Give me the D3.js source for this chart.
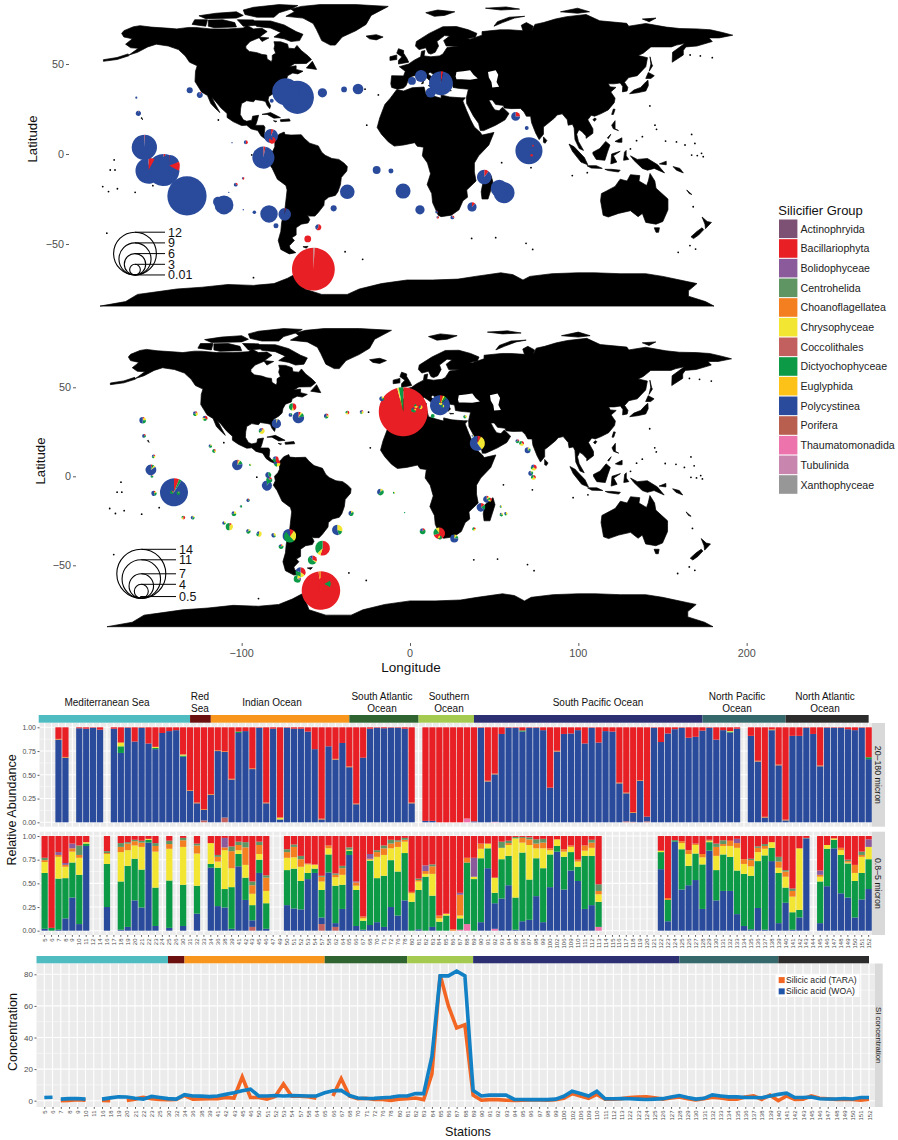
<!DOCTYPE html>
<html>
<head>
<meta charset="utf-8">
<style>
  html, body { margin: 0; padding: 0; background: #fff; }
  svg { display: block; font-family: "Liberation Sans", Arial, sans-serif; }
</style>
<script src="https://d3js.org/d3.v7.min.js"></script>
</head>
<body>
<svg id="chart" width="898" height="1140"></svg>
<script>
// silicifier maps, relative abundance bars and silicic acid line

const groupNames = ['Actinophryida','Bacillariophyta','Bolidophyceae','Centrohelida','Choanoflagellatea','Chrysophyceae','Coccolithales','Dictyochophyceae','Euglyphida','Polycystinea','Porifera','Thaumatomonadida','Tubulinida','Xanthophyceae'];
const groupColors = ['#7d5173','#e81f25','#8b5a9a','#5f9563','#f47f20','#f3e633','#c1605f','#0c9a46','#fdc218','#2a4b9c','#b85f50','#ec73ac','#c885ae','#979797'];
const groupCodes = {A:'Actinophryida',B:'Bacillariophyta',V:'Bolidophyceae',G:'Centrohelida',O:'Choanoflagellatea',C:'Chrysophyceae',K:'Coccolithales',D:'Dictyochophyceae',E:'Euglyphida',P:'Polycystinea',R:'Porifera',T:'Thaumatomonadida',U:'Tubulinida',X:'Xanthophyceae'};

// land outlines, lon/lat
const landPolys = [
  [[-167.3,67],[-166,68.5],[-160.4,70.7],[-156.5,71.3],[-150,70.5],[-139,69.8],[-135,69.5],[-128,70.3],[-124,70.3],[-115,69.5],[-105,69.5],[-96,70],[-94,71.5],[-90,69.5],[-85,69.8],[-82,68],[-85,66],[-87,64.5],[-92,62.5],[-94.5,60],[-94.5,58.7],[-92.5,57],[-88,56.3],[-85,55.3],[-82.3,55],[-82,52.8],[-79.5,51.3],[-79,52.5],[-79,54.8],[-77,56],[-78,58.5],[-77.5,60.5],[-78,62.4],[-74,62.3],[-70,61],[-69.5,58.8],[-66,58.5],[-64.5,60.3],[-62,57.5],[-58,54.5],[-56,52.5],[-59,50.3],[-66,50.2],[-69,48.5],[-65,49],[-65,47],[-61,46],[-64,44.5],[-67,45],[-70,43.5],[-70.5,41.8],[-74,40.5],[-75.5,38],[-76,35.5],[-78,33.8],[-81,32],[-81.5,30],[-80,26.8],[-80.5,25.2],[-82,27],[-83,29.2],[-85,29.7],[-89,30.2],[-90,29],[-94,29.6],[-97,28],[-97.6,25],[-97.8,22],[-96,19],[-94,18.2],[-91,18.8],[-90.5,21],[-87,21.5],[-88,18],[-88.8,15.9],[-84,15.9],[-83.3,14.8],[-83.7,11],[-82,9],[-80,9.2],[-77.5,8.6],[-78,7.5],[-80.3,7.3],[-83,8.3],[-85.5,10],[-87.5,13],[-91.5,14],[-94,16],[-97,15.8],[-102,18],[-105.5,20.3],[-105.5,22.5],[-109,25.5],[-112.5,29.5],[-114.5,31.5],[-112,27],[-109.7,23],[-112,25],[-115,28],[-117,32.5],[-120.5,34.5],[-122.5,37.5],[-124.3,40.3],[-124,46],[-123,49],[-127.5,51],[-130,54.5],[-134,58],[-140,60],[-147,61],[-152,59.5],[-158,56.5],[-163,55],[-157.5,58.7],[-162,59],[-165,61],[-161,64],[-166,65]],
  [[-178,51.5],[-170,52.5],[-163,54.6],[-163.5,55.6],[-170,53.6],[-178,52.4]],
  [[-71,76.5],[-61,75.5],[-55,72.5],[-53,69],[-50,63],[-45,60.5],[-42,60.5],[-38,65],[-30,68.5],[-24,72],[-21,77],[-11,82],[-30,83],[-51,83],[-62,82],[-68,80.5],[-66,79]],
  [[-96,80],[-90,81.5],[-75,83],[-64,82.5],[-68,80.5],[-75,78.5],[-78,76],[-88,76],[-95,77.5]],
  [[-122,76.8],[-112,78.2],[-100,79],[-96,77],[-100,75.5],[-118,75.2]],
  [[-126,72],[-124.5,74.6],[-117,74.6],[-118,71]],
  [[-116.5,74.4],[-108,74.6],[-101,73],[-100,70.6],[-113,70.2],[-116.5,71]],
  [[-99.5,74.6],[-90,74.5],[-89,71.5],[-96,71]],
  [[-92,74],[-80,73.9],[-72,71.7],[-65,68],[-61,66.5],[-63,63],[-68,62.5],[-72,64],[-78,65],[-74,67.5],[-80,70],[-88,70.8]],
  [[-87,65],[-81,64.5],[-85,62.5]],
  [[-59,47.8],[-55.5,51.5],[-53,47]],
  [[-85,22],[-80,23],[-74.2,20.2],[-78,19.9],[-82,22]],
  [[-74.3,19],[-69,19.5],[-68.5,18.3],[-74,18]],
  [[-78.3,18.5],[-76.3,18.2],[-77,17.8]],
  [[-77.3,8.5],[-75,11],[-72,12.2],[-71.5,10.8],[-68,10.5],[-62,10.7],[-60,8.5],[-57,6],[-52,4.5],[-50,1],[-48,-0.7],[-44,-2.5],[-40,-3],[-37,-5],[-35,-7],[-35.3,-9.5],[-38.5,-13],[-39,-17],[-40.5,-21],[-42,-23],[-46,-24],[-48.5,-26],[-48.7,-28.5],[-52,-32.5],[-54,-34.5],[-57,-34.5],[-58.3,-34],[-57,-36.5],[-58,-38.3],[-62,-39],[-65,-41],[-65,-45],[-67.5,-46.5],[-66,-48],[-69,-51],[-68.5,-52.5],[-65.2,-54.8],[-69,-55.5],[-74,-53],[-75.5,-48],[-74,-43],[-73.5,-38],[-71.5,-30],[-70.3,-20],[-71,-17.5],[-76,-14],[-79,-8],[-81.2,-5],[-80,-2.5],[-80.5,0],[-78.5,2],[-77.5,4],[-77.5,7]],
  [[-6,35.8],[-2,35],[3,36.8],[10,37.2],[11,33.5],[15,32.3],[20,31],[20,32.8],[25,31.7],[32,31.2],[34.2,31.2],[32.7,29.5],[35,24],[37.3,19],[39.5,15],[43,12],[44,10.5],[51,12],[48,5],[42,-1],[39.5,-5],[39.5,-10],[40.5,-15],[35,-20],[35.5,-24],[32.8,-26],[30.5,-31],[26,-34],[20,-34.8],[18.3,-34],[15,-27],[14.5,-22],[11.8,-17],[13.8,-11],[12,-5],[9,-1],[9.7,3.8],[6,4.3],[4.5,6.3],[-2,5],[-7.5,4.4],[-11,6.8],[-15,11],[-17.5,14.7],[-16,20],[-13,27.5],[-9.8,31]],
  [[-9,37],[-9.5,39],[-9,43.5],[-2,43.4],[-1,46],[-4.5,48.5],[1,50],[4,52],[8,54],[8.5,57],[10.5,57.5],[10,54.5],[14,54],[19,54.5],[21,55.5],[23.5,59.2],[30,60],[23,60],[21.5,63],[25,65.5],[22,65.8],[17.5,62.5],[18.5,60],[16.5,56.5],[14,55.5],[12.5,56],[11,59],[7,58],[5,60],[5.5,62.5],[13,67],[21,70.7],[29,70.8],[36,69],[41,67],[40,64.8],[35,64],[37,63.8],[44,66],[44,68],[54.5,69],[60,69],[68,68.5],[67,71.5],[70,73],[74,71],[73,68],[75,72],[80,73],[87,75],[93.6,76.3],[105,77.5],[113,74],[128.8,72.6],[130,71],[140,72.5],[152,70.5],[160,69.7],[170,69.5],[178,69],[185,67.5],[191,66],[183,64.5],[177,64.5],[179,62.5],[170,60],[163.5,59.5],[162,57.5],[162,55],[155.5,51],[155.7,56.5],[163,61.5],[158,60.5],[155,59.5],[143,59.5],[138.5,56],[135.5,54.7],[141,53.5],[140,48.5],[135,43.5],[130,42.5],[127.5,39.8],[129.5,37],[129,35],[126.3,34.5],[126.5,37.5],[125,39.5],[121.5,39],[118,39],[119,37.3],[122.5,37],[119.5,34.5],[122,31],[121.5,28.5],[118,24.5],[113.5,22.3],[110,21],[108,21.5],[106,19],[109,14],[109,11.5],[105,8.7],[105,10],[102.5,12.5],[100.8,13.5],[99.5,11],[100.5,7],[103.5,2],[101,3],[98.5,8],[98,14.5],[97,16.5],[94.5,16],[94,19],[91,22.3],[88,21.7],[86.5,20],[82,16.5],[80,15],[80,11],[77.5,8],[75.5,11.5],[73,17.5],[72.5,21],[70,21],[68.5,23.5],[66.5,25.3],[61,25.2],[57,25.6],[56.5,27],[52,27.5],[50,30],[48,30],[50,26.5],[51.5,24.5],[54,24],[56,26],[59.8,22.5],[57.5,19],[52,16],[45,13],[43,13],[42,17],[39,21],[35,28],[34.8,31.2],[36,36],[30,36.5],[27,37],[26.5,40],[24,40.5],[23,40],[24,37.7],[22.5,36.5],[19.5,41],[19,42],[13.5,45.5],[12.3,44.5],[18.5,40],[16,38],[12,42],[8.5,44.3],[3,43.2],[0.5,40.5],[-0.5,38],[-2,36.7],[-5.5,36]],
  [[130.5,33.5],[135,34],[140,35],[141.5,38],[141.3,41],[140,40],[137,37],[133,35.5]],
  [[140,42],[141.5,45.3],[145,43.5],[143,42]],
  [[142,46],[143,50],[142.5,54],[143.5,50],[144,49]],
  [[120,22],[121,25],[122,24.8],[121,22]],
  [[109,19],[110,20],[111,19.5],[110,18.2]],
  [[120,16],[122,18.5],[122,14],[124,13],[121,14]],
  [[122,7],[126,9],[126,6.5],[124,6.5]],
  [[117.5,9],[119.5,11],[119,10],[118,8.5]],
  [[109,1],[113,3],[116.5,7],[119,5],[117.5,1],[116,-3.5],[111,-3],[109,0]],
  [[95,5.5],[98,4],[104,-2],[106,-6],[102,-4.5],[97,1.5]],
  [[105.5,-6.5],[111,-6.5],[114.5,-8],[108,-7.8]],
  [[119.5,-5.5],[120,0],[125,1.5],[121,-1],[123,-4.5]],
  [[116,-8.5],[120,-8.5],[125,-9],[124,-10],[118,-9.2]],
  [[127.5,1],[128.5,2],[128.5,-1],[130,-3],[127,-3.5]],
  [[131,-1],[135,-3],[141,-2.5],[147,-6],[151,-10.5],[145,-8],[141,-9],[138,-8],[133,-3.5]],
  [[148,-5.5],[152,-4],[152,-6]],
  [[114,-22],[113.5,-26],[115,-34],[118,-35],[124,-33],[131,-31.5],[135.5,-34.8],[138,-33],[140,-38],[146,-39],[150,-37.5],[153,-31],[153,-25],[146,-19],[145.3,-15],[142.5,-10.8],[141.5,-15],[140.5,-17.5],[136,-15],[136.5,-12],[131,-11.5],[129,-15],[125,-14],[122,-18],[117,-20.5]],
  [[145,-41],[148,-41],[147.5,-43.5],[146,-43.5]],
  [[173,-35],[176,-37.5],[178.5,-38],[175,-41.5],[174.7,-39]],
  [[173,-41],[174,-42],[171,-45],[168,-47],[166.5,-46],[170,-43]],
  [[164,-20],[167,-22.5],[165.5,-22]],
  [[156,-7],[160,-8],[162,-10.5],[158,-9]],
  [[49.3,-12],[50.5,-16],[47.5,-25],[44,-25],[43.5,-21],[44.5,-16]],
  [[80,9.5],[82,7.5],[81,6],[80,6.5]],
  [[-24,65.5],[-18,66.3],[-14,65],[-18,63.4],[-22,64]],
  [[-5,50],[1,51],[0,53],[-2,56],[-2,57.5],[-5,58.5],[-6,56],[-3,54],[-5,52]],
  [[-10,52],[-6,52.5],[-6,55],[-10,54]],
  [[11,78.5],[18,80],[28,79],[22,77],[16,76.5]],
  [[51,71],[56,73],[63,75.5],[69,76.5],[60,76],[53,73.5]],
  [[46,81],[58,81.7],[66,80.5],[55,80]],
  [[90,79],[100,78.2],[107,79],[100,81]],
  [[138,75],[146,75.5],[142,73.5]],
  [[8.5,39],[9.7,41],[9.5,39.2]],
  [[12.5,38],[15.5,38.2],[15,36.8]],
  [[23.5,35.4],[26,35.2],[24,35]],
  [[-156,20],[-155,19],[-155.5,20.3]],
  [[-61,-51.5],[-58,-51.3],[-59,-52.3]],
  [[-180,-84.5],[-165,-82],[-158,-78],[-150,-77],[-135,-75],[-120,-74],[-105,-72.5],[-90,-73],[-78,-72],[-70,-69],[-62,-65],[-58,-63.5],[-60,-65],[-62,-70],[-60,-75],[-50,-78],[-35,-78],[-28,-75],[-15,-72],[0,-70],[15,-70],[30,-69.5],[40,-68],[55,-66],[62,-67],[68,-70],[72,-68],[85,-66.5],[100,-66],[110,-66],[125,-66.5],[140,-66.5],[150,-68],[165,-71],[170,-72],[165,-76],[165,-79],[175,-82],[180,-84.5]]
];
const waterPolys = [
  [[47.5,45.5],[52,46.5],[53.5,44],[52.5,40],[54,37.3],[50,37],[49.5,40],[48,42.5]],
  [[28.5,43],[29,45.5],[33,46],[37,46.5],[39,44],[41.5,42],[37,41.3],[32,41.5],[29,41.5]]
];
const islandDots = [[-171.7,-3.3],[-171.2,-8.9],[-174,-8.9],[-178.4,-18.1],[-175,-20.9],[-169.8,-19.3],[-159.4,-21.3],[-149,-17.6],[-176,-44],[-90,-68.7],[-26,-58.5],[-36.3,-54.3],[-110.6,18.9],[-23.6,16],[-16.8,32.8],[-24.6,36],[-91,-0.5],[55.5,-4.8],[142.4,26.7],[151.6,7.2],[158,6.7],[163,5],[168.8,5.9],[166.9,10.9],[166.9,-0.6],[170.2,-0.9],[172.7,0.4],[173.7,-1.5],[138,9.6],[134.6,7.4],[131,2.8],[105.7,-10.4],[96.9,-12],[72.7,-7.6],[37.9,-46.9],[52,-46.5],[69.8,-49.6],[73.7,-53],[159,-54.6],[165.9,-50.9],[169.2,-52.8],[167.8,-29.3],[145.4,16],[146.3,13.7],[166,55],[172,54.5],[179,53.5]];

// pies: lon, lat, size, slices ("code+percent", clockwise from noon)
const piesUpper = [
  [-127.4,35.4,1.7,'P100'],[-121.5,32.8,1.7,'B8 P92'],[-158.7,31.3,0.6,'P100'],[-157.5,22.6,1.5,'B4 P96'],
  [-154,3.7,7.1,'B1 P99'],[-151.6,-9.3,7.3,'B8 P92'],[-142.8,-8.9,9,'B2 P98'],[-139.5,-6.5,6,'B1 P18 B14 P67'],
  [-129,-23.3,11,'P100'],[-107.3,-28.3,5.3,'P100'],[-110.8,-26.5,2.8,'P100'],[-80.9,-33.3,4.9,'P100'],
  [-71.7,-33.5,3.5,'B3 P97'],[-89.5,-32.4,1,'P100'],[-96,-31,0.4,'P100'],[-76.8,-39.8,1.4,'P100'],
  [-52,-40.7,1.7,'B60 P40'],[-58.2,-47.2,1.9,'B100'],[-54.9,-64,12,'X1 B99'],[-43,-30.2,1.7,'P100'],
  [-35,-21,4.1,'P100'],[-17.8,-8.9,2.2,'P100'],[-9.4,-9.4,1.4,'P100'],[-2.3,-20.6,4.2,'P100'],
  [7.6,-31,2.6,'P100'],[17.4,-32.2,0.8,'B20 P80'],[18,-35.2,0.7,'B70 P30'],[26.6,-35.2,1.1,'B30 P70'],
  [38.1,-29.4,2.6,'B12 P88'],[45.3,-12.8,4.1,'B10 P90'],[54.1,-19.1,4.8,'P100'],[56.9,-21.5,5.9,'B1 P99'],
  [71.5,1.8,7.6,'P100'],[73.9,4.6,0.5,'B100'],[73.1,-0.7,0.7,'B100'],[70.2,14.4,1.1,'P100'],[63.7,20.9,2.5,'B25 P75'],
  [19.9,39.3,6.7,'B3 P97'],[13.9,34.1,2.8,'P100'],[8.2,43.3,3.4,'P100'],[2.9,40.6,2.2,'P100'],
  [-28.7,36.1,3,'P100'],[-36.9,35.9,1.6,'P100'],[-49.6,34,2.6,'P100'],[-64.3,31.5,9.3,'P100'],[-71.1,34.6,7.6,'P100'],
  [-79.3,29.6,1.1,'P100'],[-79.7,10,3.9,'B6 P94'],[-79,7.6,1.9,'B85 P15'],[-84.2,-2,6.2,'B3 P97'],
  [-94.5,6.5,1.1,'B50 P50'],[-102.6,6.3,0.4,'P100'],[-96.1,-13.5,0.7,'B60 P40'],[-100.4,-17,1.1,'B30 P70'],[-104.5,-21.3,0.4,'P100']
];
const piesLower = [
  [-158.8,31.5,1.9,'B8 C17 D25 P50'],[-127.5,35.2,1.4,'B15 C30 D30 P25'],[-121.8,32.6,1.5,'B35 D30 C15 P20'],[-158,22.7,1.1,'B20 D30 P50'],
  [-152.3,11.2,1,'B20 C25 D25 P30'],[-153.9,3.6,3.1,'B4 D6 C5 P85'],[-153.3,0,0.8,'B10 C10 D60 P20'],[-152.1,-9.6,1.5,'B10 C10 D25 P55'],
  [-140.2,-9,8,'B6 D3 P91'],[-141.5,-9,1,'B15 C15 D70'],[-137.6,-9.5,1,'C15 D85'],[-134.7,-23.2,1.1,'B50 C25 D25'],[-129.1,-23.2,1.1,'C20 D35 P45'],
  [-118.6,17,1,'C20 D50 P30'],[-116.4,14.2,1.1,'B20 C20 D60'],[-102.6,6.4,3,'B5 C5 D12 P78'],[-94.9,6.4,0.6,'C40 D60'],
  [-96.2,-13.5,1,'B15 D20 P65'],[-100.4,-16.9,0.7,'D80 P20'],[-104.6,-21,1.4,'C25 D50 P25'],[-110.5,-26.2,1,'C20 D30 P50'],[-107.3,-28.3,2.1,'B10 C40 D50'],
  [-96,-30.9,1.3,'C20 D50 P30'],[-89.7,-32.4,1.5,'C55 D25 P20'],[-81,-33.1,1.3,'C30 D15 P55'],[-71.3,-33.9,3.4,'B10 C28 D52 P10'],[-71.7,-33.3,3.8,'B12 C20 D30 P38'],
  [-76.6,-39.5,1.4,'B10 C10 D60 P20'],[-35,-20.8,1.5,'C15 D45 P40'],[-43.2,-30.1,3,'C30 D15 P55'],[-17.6,-8.8,1.9,'C15 D45 P40'],[-9.5,-9.2,0.6,'C40 D60'],
  [-51.9,-40.4,4.2,'B55 C8 D37'],[-58,-47,2.6,'B30 C5 D55 P10'],[-65,-53.9,2.9,'B35 C15 D30 P20'],[-66.9,-57.7,2.1,'C20 V10 D70'],
  [-52.9,-64.2,11,'B98 O2'],[-51,-60.5,3.8,'B17 D16 B67'],[-69.7,39,2.1,'B45 C10 D45'],[-71,34.5,1.1,'D25 P75'],[-66.3,33,3.3,'B7 C5 D10 P78'],
  [-79.4,29.6,2.7,'C5 P95'],[-88.1,25.5,1.7,'B10 C55 D15 P20'],[-49.7,33.9,1.4,'B20 C15 D25 P40'],[-37.2,35.8,1.1,'B40 C30 D30'],[-28.7,36.1,1.1,'B15 C35 D20 P30'],
  [-79.8,9.6,1.7,'B50 D30 P20'],[-79,7.3,1.9,'B25 C25 D20 P30'],[-84.2,0.7,1.7,'D40 P60'],[-83.6,-2,1.7,'B20 D70 P10'],[-85,-5.2,2.9,'D10 P90'],[-16.8,43.6,1.4,'C20 D20 P60'],
  [-4,36.3,14,'B96 C1 D3'],[17.8,39.9,5.7,'B5 C3 D4 P88'],[2.2,37.3,1.4,'B15 C15 D55 P15'],[3.6,39.5,1.1,'B30 C40 D30'],[6.3,38.8,1.1,'C60 D20 P20'],
  [19.4,39.5,0.9,'C50 D50'],[18.2,41,0.9,'B20 C60 D20'],[13.5,33.9,1.1,'D100'],[32.7,33.5,1,'C40 D50 P10'],[40,18.5,4.3,'B8 C32 P60'],[37.2,22.8,0.6,'C30 D20 P50'],
  [63.8,19.7,1.1,'B20 D50 P30'],[66.3,18.5,1.4,'B30 C35 D35'],[69.9,14.6,1.7,'B5 C10 D15 P70'],[73.5,5,1.7,'B35 C30 D15 P20'],[71.7,1.7,1.4,'C10 D25 P65'],[73.3,-0.6,1.4,'B30 C35 D35'],
  [45.5,-12.9,2,'B10 C10 D15 P65'],[47.5,-13.1,1.1,'B40 C35 D25'],[42.2,-17.4,2.5,'B15 D20 P65'],[54,-17,0.7,'C40 D40 P20'],[54.3,-21.5,1,'C30 D50 P20'],[57,-21,0.9,'C40 D30 P30'],
  [38,-29.6,1,'B25 C35 D40'],[7.5,-30.9,1.7,'B15 D65 P20'],[17.4,-32,3.3,'B70 D20 C10'],[17.8,-34.4,1.1,'D70 C30'],[26.3,-35,2.3,'C12 D13 P75'],[-3.2,-20.4,0.4,'D100']
];

const upperLegend = [12, 9, 6, 3, 0.01];
const lowerLegend = [14, 11, 7, 4, 0.5];
const latTicks = [50, 0, -50];
const lonTicks = [-100, 0, 100, 200];

// stations on the bar panels
const barStations = ['5','6','7','8','9','10','11','12','14','16','17','18','19','20','21','22','23','24','25','26','30','31','32','33','34','36','38','39','41','42','43','45','46','47','49','50','51','52','53','54','57','58','62','64','65','66','67','68','70','71','72','76','78','80','81','82','83','84','85','86','87','88','89','90','91','92','93','94','95','96','97','98','99','100','102','106','109','110','111','112','113','114','115','116','117','118','119','120','121','122','123','124','125','126','127','128','129','130','131','132','133','134','135','136','137','138','139','140','141','142','143','144','145','146','147','148','149','150','151','152'];

// 20-180 micron: Polycystinea share per station, the remainder is mostly diatoms
const upperBlue = [null,null,.87,.68,null,.99,.985,.995,.975,null,.985,.73,.995,.85,.995,.83,.77,.94,.96,.97,.69,.33,.20,.11,.29,.75,.69,.45,.94,.96,.56,.995,.20,.985,.03,.995,.985,.985,.955,.77,.03,.80,.66,.835,.58,.19,.68,.985,.995,.99,.995,.995,.985,.20,null,.015,.015,0,0,0,0,0,.01,.995,.43,.50,.93,.995,.995,.955,.995,.995,.97,.365,.745,.93,.935,.97,.83,.995,.84,.96,.955,.41,.295,.095,.435,.05,.995,.845,.935,.98,.995,.89,.90,.965,.995,.87,.97,.945,.985,null,.91,.64,.05,.97,.60,.02,.91,.91,.995,.93,.59,.995,.995,.995,.98,.97,.995,.665];
const upperGreen = {11:.07,16:.012,20:.012,28:.015,69:.012,99:.01,119:.02};
const upperYellow = {11:.035,16:.012,20:.012,34:.02,99:.006,105:.006};
const upperThin = [2,3,11,21,22,23,24,25,26,27,30,32,40,42,44,45,53,64,65,74,83,84,85,86,103,104,106,107,112];
const upperLow = {23:.02,26:.05,84:.01,85:.005,87:.01};
const upperPink = {61:.04,65:.005};

// 0.8-5 micron: blue, green, yellow, orange, minor; diatoms fill the rest of the bar
const lowerRows = [
  [.02,.59,.115,.02,.025],[0,.03,0,0,0],[.01,.54,.23,.02,.03],[.13,.425,.12,.02,.02],[.35,.37,.115,.035,.05],[.07,.52,.18,.03,.10],[.895,.025,.015,0,0],null,null,
  [.25,.455,.105,.01,.02],null,[.01,.51,.31,.055,.04],[.04,.645,.165,.07,.015],[.32,.44,.14,.045,.015],[.245,.40,.24,.045,.02],[.93,.03,.01,0,0],[.05,.405,.38,.06,.03],null,
  [.03,.50,.335,.05,.035],null,[.05,.435,.40,.07,.025],null,[.18,.295,.34,.085,.02],null,[.665,.04,.22,0,0],[.26,.405,.065,.05,.02],[.245,.195,.41,.03,.10],[.02,.44,.20,.18,.05],
  [.68,.13,.04,.055,.035],[.325,.235,.135,.185,.055],[.07,.16,.12,.09,.04],[.61,.14,.06,.095,.035],[.02,.27,.13,.14,.025],null,null,[.27,.37,.13,.06,.03],[.235,.42,.12,.11,.025],[.225,.30,.15,.08,.035],
  [.545,.065,.09,.01,0],[.61,.045,.04,.005,0],[.07,.29,.09,.05,.01],[.615,.19,.065,.03,0],[.04,.395,.09,.025,.015],[.23,.255,.105,.07,.025],[.80,.045,.01,0,.025],[.05,.38,.045,.035,.01],[.01,.095,.025,.02,0],
  [.06,.68,.01,.01,.05],[.09,.465,.225,.05,.02],[.04,.54,.22,.07,.03],[.25,.495,.125,.05,.04],[.16,.465,.26,.055,.015],[.32,.50,.12,.02,.02],[0,.305,.09,.015,0],[.015,.415,.09,.015,.015],
  [0,.57,.03,.03,.06],[.04,.33,.23,.08,.02],[0,.095,.035,.03,0],[0,.16,.02,0,0],[0,0,0,.015,0],[0,.12,.03,.22,.02],[0,.65,0,.05,0],[0,.545,.025,0,.20],[.09,.675,.10,.055,0],[.66,.21,.05,0,0],
  [.27,.11,.16,0,0],[.34,.415,.12,0,.065],[.48,.31,.115,.02,.025],[.01,.34,.625,0,.015],[.10,.725,.105,.05,.01],[.115,.425,.365,.06,.02],[.365,.40,.105,.05,.045],[.09,.57,.21,.06,.04],[.46,.345,.045,.02,0],
  [.835,.06,.07,0,0],[.435,.345,.055,.025,0],[.635,.195,.055,.015,0],[.525,.15,.055,.02,0],[.23,.56,.055,.055,0],[.27,.52,.085,.055,.03],[0,.265,.08,.035,.07],null,null,null,null,null,null,null,null,
  [.65,.18,.015,0,0],[.10,.225,0,.02,0],[.94,.015,0,0,0],[.435,.425,.065,.02,0],[.48,.205,.125,.04,0],[.535,.28,.09,.015,0],[.23,.47,.075,.035,0],[.845,.09,.01,.01,.005],[.32,.32,.15,.095,.035],
  [.42,.385,.09,.02,.04],[.42,.36,.115,.055,0],[.175,.46,.24,.05,.045],[.05,.55,.105,.05,0],[.015,.565,.10,.065,.015],[.24,.495,.095,.045,.015],[.01,.785,.07,.03,.02],[.735,.14,.06,0,0],[.08,.53,.055,.065,.05],
  [.295,.16,.115,.055,.015],[.01,.185,.165,.06,.025],[.14,.08,.65,0,0],[.975,0,0,0,.005],null,[.08,.44,.05,.02,.045],[.47,.395,.04,0,0],[.87,.09,.015,0,0],[.395,.405,.05,.025,0],
  [.35,.36,.01,.015,.015],[.14,.385,.085,.085,0],[.33,.28,.17,.02,.035],[.44,.315,.13,0,.08]
];
const lowerLow = {30:.04,40:.07,42:.04};
const lowerPink = {60:.01,61:.07,65:.02,80:.04};
const lowerViolet = [2,3,4,26,45,47,55,60,62,100,112,119];

// oceans, last station of each stretch
const oceanNames = [['Mediterranean Sea'],['Red','Sea'],['Indian Ocean'],['South Atlantic','Ocean'],['Southern','Ocean'],['South Pacific Ocean'],['North Pacific','Ocean'],['North Atlantic','Ocean']];
const oceanColors = ['#4fbcc2','#6b0f0f','#f7951d','#2f6431','#a4cb4f','#2c2f72','#34686a','#2c2c2c'];
const oceanEndsBars = ['31','34','65','81','89','128','140','152'];
const oceanEndsLine = ['30','34','65','81','89','128','140','152'];
const oceanCenters = [107,200,272,382,449,598,737,825];

// silicic acid panel
const lineStations = ['5','6','7','8','9','10','11','16','18','19','20','21','22','23','25','30','32','34','36','38','39','41','42','43','45','46','50','51','52','53','54','57','58','64','65','66','67','68','70','71','72','76','78','80','81','82','83','84','85','86','87','88','89','90','91','92','93','94','95','96','97','98','99','100','102','106','109','110','111','112','113','122','123','124','125','126','127','128','129','130','131','132','133','134','135','136','137','138','139','140','141','142','143','145','146','147','148','149','150','151','152'];
const siWoa = [2,2.2,1,1.3,1.4,1,null,1,1.8,2.5,2.3,1.5,1,2.7,2,1.3,1,3.8,3,2.9,2.6,3,4,5,6.3,7.3,3,3,3.3,3,3.2,3.1,3,3,5,6.3,6.5,3.3,1.7,1.4,1.5,1.9,2.2,3,3,4.5,4.5,28,79,79,82,79,6.5,3,3.5,3.5,3.5,.8,.8,.7,.7,.7,1,2.8,6,4.5,3,6,1.2,1.2,1.4,1.2,1,.8,1,1.3,2.3,3.3,2,1,1.5,3.7,3,2.4,2.4,2,2,1.9,3,4,4.8,2,2,2.3,1.2,1.1,1.1,1.4,1.1,2,2];
const siTara = [null,null,0,.2,.6,.3,null,.2,0,null,.2,1,2.2,1.2,.8,.6,.8,3.3,1,1.1,1.2,1.3,2,1.7,15,2,2,1,2.6,10.5,2.8,2.8,2.5,1.5,null,3,14,3,1.2,1.5,.8,.8,.2,1,1.2,1.7,.7,17,79.5,60,46,48,3.5,.3,.7,.7,.3,.2,.3,.4,.4,.3,.7,1.5,4.5,3,1.5,4,1,1,1.3,2,2.3,2.5,1.8,1,1.8,2.3,1.3,.5,1.3,2.2,1.8,1,1,2.3,3,.8,3.5,0,3,.8,1,3,1.5,1.2,.8,1,.8,.4,1];
const siGapAfter = ['6'];
const lineTicks = [0, 20, 40, 60, 80];
const lineMinor = [10, 30, 50, 70];
const fractionTicks = [0, .25, .5, .75, 1];
const fractionMinor = [.125, .375, .625, .875];
const siSeries = [['Silicic acid (TARA)','#f26522',siTara],['Silicic acid  (WOA)','#1280c4',siWoa]];
const siKeyColors = ['#f26522','#1f55a8'];

const svg = d3.select('#chart');
const colorOf = d3.scaleOrdinal().domain(groupNames).range(groupColors);
const axisGrey = '#4d4d4d';

function styleAxis(g, size){
  g.select('.domain').remove();
  g.selectAll('.tick line').attr('stroke', '#333').attr('stroke-width', 0.8);
  g.selectAll('.tick text').attr('fill', axisGrey).style('font-size', size + 'px').style('font-family', '"Liberation Sans", Arial, sans-serif');
}

function drawMap(opt, pies){
  const x = d3.scaleLinear().domain([-180, 180]).range(opt.xRange);
  const y = d3.scaleLinear().domain([0, 50]).range(opt.yRange);
  const r = d3.scaleLinear().domain([0, opt.legend[0]]).range([0, opt.maxR]);
  const g = svg.append('g');
  const land = d3.line().x(d => x(d[0])).y(d => y(d[1])).curve(d3.curveLinearClosed);

  g.selectAll('path.land').data(landPolys).join('path').attr('class', 'land')
    .attr('d', land).attr('fill', '#000').attr('stroke', '#000').attr('stroke-width', 0.7).attr('stroke-linejoin', 'round');
  g.selectAll('path.water').data(waterPolys).join('path').attr('class', 'water').attr('d', land).attr('fill', '#fff');
  g.selectAll('circle.isle').data(islandDots).join('circle').attr('class', 'isle')
    .attr('cx', d => x(d[0])).attr('cy', d => y(d[1])).attr('r', 0.9).attr('fill', '#000');

  const pie = d3.pie().sort(null).value(d => d.share);
  const arc = d3.arc().innerRadius(0);
  const sorted = pies.slice().sort((a, b) => b[2] - a[2]);
  const pieG = g.selectAll('g.pie').data(sorted).join('g').attr('class', 'pie')
    .attr('transform', d => `translate(${x(d[0])},${y(d[1])})`);
  pieG.each(function(d){
    const slices = d[3].split(' ').map(s => ({group: groupCodes[s[0]], share: +s.slice(1)}));
    d3.select(this).selectAll('path').data(pie(slices)).join('path')
      .attr('d', a => arc.outerRadius(r(d[2]))(a))
      .attr('fill', a => colorOf(a.data.group));
  });

  // size legend
  const lg = g.append('g');
  opt.legend.forEach(v => {
    const top = opt.legendBottom - 2 * r(v);
    lg.append('circle').attr('cx', opt.legendX).attr('cy', opt.legendBottom - r(v)).attr('r', r(v))
      .attr('fill', 'none').attr('stroke', '#000').attr('stroke-width', 1.1);
    lg.append('line').attr('x1', opt.legendX).attr('x2', opt.legendLineEnd).attr('y1', top).attr('y2', top)
      .attr('stroke', '#000').attr('stroke-width', 1);
    lg.append('text').attr('x', opt.legendLineEnd + 3).attr('y', top).attr('dy', '.36em')
      .style('font-size', '12.5px').attr('fill', '#111').text(v);
  });

  g.append('g').attr('transform', `translate(${opt.axisX},0)`)
    .call(d3.axisLeft(y).tickValues(latTicks).tickSize(3).tickPadding(2).tickFormat(d => String(d).replace('-', '\u2212')))
    .call(a => styleAxis(a, 10.8));
  g.append('text').attr('transform', `translate(${opt.titleX},${opt.titleY}) rotate(-90)`)
    .attr('text-anchor', 'middle').style('font-size', '13.2px').attr('fill', '#111').text('Latitude');
  return x;
}

const xLower = drawMap({xRange: [107, 713], yRange: [476.3, 387.3], legend: lowerLegend, maxR: 24.5, legendX: 141.3, legendBottom: 598.3, legendLineEnd: 176, axisX: 76, titleX: 45, titleY: 461}, piesLower);
drawMap({xRange: [100, 714], yRange: [154, 64], legend: upperLegend, maxR: 21.4, legendX: 135, legendBottom: 275, legendLineEnd: 165, axisX: 69, titleX: 37, titleY: 139}, piesUpper);

// longitude axis under the lower map
svg.append('g').attr('transform', 'translate(0,646)')
  .call(d3.axisTop(xLower).tickValues(lonTicks).tickSize(3).tickFormat(() => ''))
  .call(a => styleAxis(a, 10.5));
svg.selectAll('text.lon').data(lonTicks).join('text').attr('class', 'lon')
  .attr('x', d => xLower(d)).attr('y', 656.5).attr('text-anchor', 'middle')
  .style('font-size', '10.8px').attr('fill', axisGrey).text(d => String(d).replace('-', '\u2212'));
svg.append('text').attr('x', 411).attr('y', 672).attr('text-anchor', 'middle')
  .style('font-size', '13.5px').attr('fill', '#111').text('Longitude');

// group legend
svg.append('text').attr('x', 778.3).attr('y', 214.5).style('font-size', '13px').attr('fill', '#111').text('Silicifier Group');
const legendRow = d3.scaleBand().domain(groupNames).range([219.5, 219.5 + 19.67 * groupNames.length]);
const legendItems = svg.selectAll('g.key').data(groupNames).join('g').attr('class', 'key')
  .attr('transform', d => `translate(779,${legendRow(d)})`);
legendItems.append('rect').attr('width', 18.4).attr('height', 18.6).attr('fill', d => colorOf(d));
legendItems.append('text').attr('x', 21.5).attr('y', 9.6).attr('dy', '.35em')
  .style('font-size', '10.6px').attr('fill', '#222').text(d => d);

// panel helpers
const xBar = d3.scaleBand().domain(barStations).range([40.5, 872.8]).paddingInner(.1).paddingOuter(.15);
const barKeys = ['Thaumatomonadida','Coccolithales','Polycystinea','Dictyochophyceae','Chrysophyceae','Choanoflagellatea','Centrohelida','Bolidophyceae','Bacillariophyta'];

function panelGrid(box, xs, major, minor, y){
  const g = svg.append('g');
  g.append('rect').attr('x', box.x0).attr('y', box.y0).attr('width', box.x1 - box.x0).attr('height', box.y1 - box.y0).attr('fill', '#ebebeb');
  g.selectAll('line.mi').data(minor).join('line').attr('class', 'mi')
    .attr('x1', box.x0).attr('x2', box.x1).attr('y1', d => y(d)).attr('y2', d => y(d)).attr('stroke', '#fff').attr('stroke-width', 0.5);
  g.selectAll('line.ma').data(major).join('line').attr('class', 'ma')
    .attr('x1', box.x0).attr('x2', box.x1).attr('y1', d => y(d)).attr('y2', d => y(d)).attr('stroke', '#fff').attr('stroke-width', 1.1);
  g.selectAll('line.v').data(xs).join('line').attr('class', 'v')
    .attr('x1', d => d).attr('x2', d => d).attr('y1', box.y0).attr('y2', box.y1).attr('stroke', '#fff').attr('stroke-width', 1.1);
}

function strip(box, label, size){
  svg.append('rect').attr('x', box.x1).attr('y', box.y0).attr('width', box.sw).attr('height', box.y1 - box.y0).attr('fill', '#d9d9d9');
  svg.append('text').attr('transform', `translate(${box.x1 + box.sw / 2},${(box.y0 + box.y1) / 2}) rotate(90)`)
    .attr('text-anchor', 'middle').attr('dy', '.35em').style('font-size', size + 'px').attr('fill', '#1a1a1a').text(label);
}

function barPanel(box, rows, yRange){
  const y = d3.scaleLinear().domain([0, 1]).range(yRange);
  panelGrid(box, barStations.map(s => xBar(s) + xBar.bandwidth() / 2), fractionTicks, fractionMinor, y);
  const layers = d3.stack().keys(barKeys).value((d, k) => d[k] || 0)(rows);
  svg.append('g').selectAll('g').data(layers).join('g')
    .attr('fill', d => colorOf(d.key))
    .selectAll('rect').data(d => d.filter(p => p[1] > p[0])).join('rect')
    .attr('x', d => xBar(d.data.station))
    .attr('width', xBar.bandwidth())
    .attr('y', d => y(d[1]))
    .attr('height', d => y(d[0]) - y(d[1]));
  svg.append('g').attr('transform', `translate(${box.x0},0)`)
    .call(d3.axisLeft(y).tickValues(fractionTicks).tickSize(2).tickPadding(1.5).tickFormat(d3.format('.2f')))
    .call(a => styleAxis(a, 7));
}

function stationAxis(scale, yPos){
  svg.append('g').attr('transform', `translate(0,${yPos})`)
    .call(d3.axisBottom(scale).tickSize(1.8).tickPadding(1))
    .call(a => styleAxis(a, 6))
    .call(a => a.selectAll('.tick text').attr('text-anchor', 'end').attr('y', 0).attr('dy', '.35em').attr('transform', 'translate(0,3.5) rotate(-90)'));
}

function oceanStrip(scale, ends, y0, y1, xStart){
  let prev = xStart;
  const spans = ends.map((s, i) => {
    const end = scale(s) + (scale.bandwidth ? scale.bandwidth() / 2 : 0);
    const span = {x0: prev, x1: end, fill: oceanColors[i]};
    prev = end;
    return span;
  });
  svg.append('g').selectAll('rect').data(spans).join('rect')
    .attr('x', d => d.x0).attr('width', d => d.x1 - d.x0).attr('y', y0).attr('height', y1 - y0).attr('fill', d => d.fill);
}

// upper bars
const upperRows = barStations.map((s, i) => {
  const row = {station: s};
  if(upperBlue[i] === null) return row;
  row.Thaumatomonadida = upperPink[i] || 0;
  row.Coccolithales = upperLow[i] || 0;
  row.Polycystinea = upperBlue[i];
  row.Dictyochophyceae = upperGreen[i] || 0;
  row.Chrysophyceae = upperYellow[i] || 0;
  row.Choanoflagellatea = upperThin.includes(i) ? .008 : 0;
  row.Bacillariophyta = Math.max(0, 1 - d3.sum(barKeys, k => row[k] || 0));
  return row;
});

const lowerRowsByStation = barStations.map((s, i) => {
  const row = {station: s};
  const v = lowerRows[i];
  if(!v) return row;
  row.Thaumatomonadida = lowerPink[i] || 0;
  row.Coccolithales = lowerLow[i] || 0;
  row.Polycystinea = v[0];
  row.Dictyochophyceae = v[1];
  row.Chrysophyceae = v[2];
  row.Choanoflagellatea = v[3];
  row[lowerViolet.includes(i) ? 'Bolidophyceae' : 'Centrohelida'] = v[4];
  row.Bacillariophyta = Math.max(0, 1 - d3.sum(barKeys, k => row[k] || 0));
  return row;
});

const upperBox = {x0: 39.5, x1: 872, y0: 723, y1: 826.7, sw: 13};
const lowerBox = {x0: 39.5, x1: 872, y0: 831.7, y1: 935, sw: 13};
barPanel(upperBox, upperRows, [822.3, 727.3]);
barPanel(lowerBox, lowerRowsByStation, [930.7, 836]);
strip(upperBox, '20\u2013180 micron', 8.8);
strip(lowerBox, '0.8\u20135 micron', 8.8);
stationAxis(xBar, 935);
oceanStrip(xBar, oceanEndsBars, 715, 722.7, 38.7);

// ocean names
oceanNames.forEach((lines, i) => {
  const t = svg.append('text').attr('text-anchor', 'middle').style('font-size', '10px').attr('fill', '#111');
  const y0 = lines.length === 1 ? 705.5 : 700;
  lines.forEach((line, j) => t.append('tspan').attr('x', oceanCenters[i]).attr('y', y0 + j * 12.4).text(line));
});
svg.append('text').attr('transform', 'translate(15.5,810) rotate(-90)').attr('text-anchor', 'middle')
  .style('font-size', '12.5px').attr('fill', '#111').text('Relative Abundance');

// silicic acid
const xLine = d3.scalePoint().domain(lineStations).range([39.35, 873.95]).padding(.6);
const yLine = d3.scaleLinear().domain([0, 80]).range([1100.7, 974.3]);
const lineBox = {x0: 36.5, x1: 875, y0: 963.5, y1: 1107, sw: 7.7};
panelGrid(lineBox, lineStations.map(s => xLine(s)), lineTicks, lineMinor, yLine);
strip(lineBox, 'SI concentration', 7.8);
oceanStrip(xLine, oceanEndsLine, 956, 963.3, 36.5);

// a null marker after a station breaks the path even where both neighbours have values
const siPoints = values => lineStations.flatMap((s, i) => {
  const p = {s, v: values[i]};
  return siGapAfter.includes(s) ? [p, {s, v: null}] : [p];
});
const siPath = d3.line().defined(d => d.v !== null).x(d => xLine(d.s)).y(d => yLine(d.v));
svg.append('g').selectAll('path').data(siSeries).join('path')
  .attr('d', d => siPath(siPoints(d[2])))
  .attr('fill', 'none').attr('stroke', d => d[1]).attr('stroke-width', 3.6).attr('stroke-linejoin', 'miter');

svg.append('g').attr('transform', `translate(${lineBox.x0},0)`)
  .call(d3.axisLeft(yLine).tickValues(lineTicks).tickSize(2).tickPadding(1.5))
  .call(a => styleAxis(a, 8));
stationAxis(xLine, lineBox.y1);

const keyY = d3.scaleBand().domain(siSeries.map(d => d[0])).range([974.5, 997]);
const keyItems = svg.selectAll('g.si').data(siSeries).join('g').attr('class', 'si')
  .attr('transform', d => `translate(775.5,${keyY(d[0])})`);
keyItems.append('rect').attr('width', 84).attr('height', 11.3).attr('fill', '#fff').attr('x', 0);
keyItems.append('rect').attr('x', 3.2).attr('y', 2.6).attr('width', 6).attr('height', 6).attr('fill', (d, i) => siKeyColors[i]);
keyItems.append('text').attr('x', 10.5).attr('y', 5.6).attr('dy', '.35em').style('font-size', '8.6px').attr('fill', '#222').text(d => d[0]);

svg.append('text').attr('transform', 'translate(17,1032) rotate(-90)').attr('text-anchor', 'middle')
  .style('font-size', '12.5px').attr('fill', '#111').text('Concentration');
svg.append('text').attr('x', 468).attr('y', 1136).attr('text-anchor', 'middle')
  .style('font-size', '12.7px').attr('fill', '#111').text('Stations');
</script>
</body>
</html>
